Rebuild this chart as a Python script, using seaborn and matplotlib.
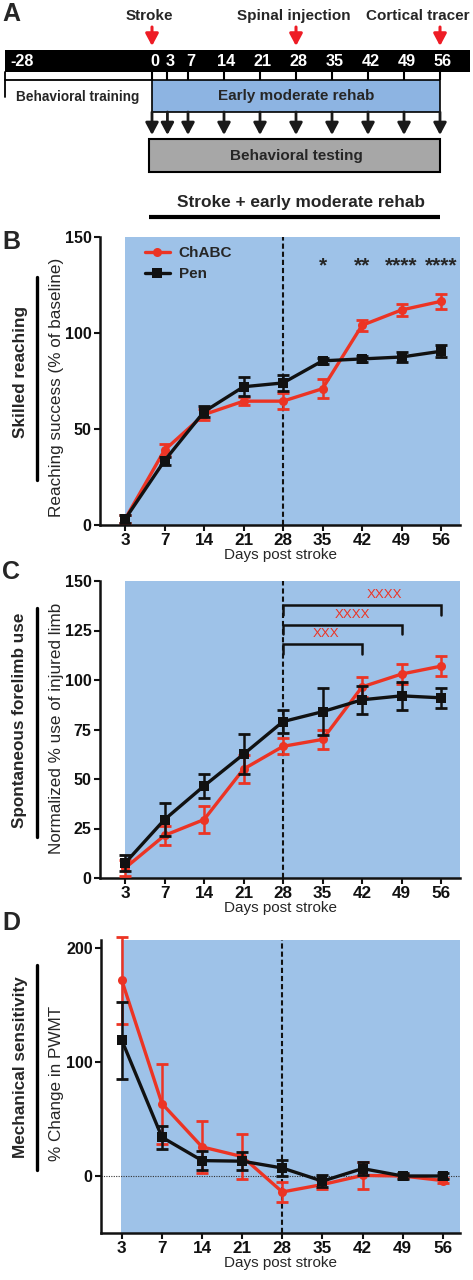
"""Timeline + three behavioural time-course panels (ChABC vs Pen)."""

import matplotlib

matplotlib.use("Agg")
import matplotlib.pyplot as plt
from matplotlib.lines import Line2D
from matplotlib.patches import Rectangle
import numpy as np
import seaborn as sns

# ---- data -------------------------------------------------------------
days = [3, 7, 14, 21, 28, 35, 42, 49, 56]

reach_chabc = [3, 39, 57.5, 64.5, 64.5, 71, 104, 112, 116.5]
reach_chabc_err = [2, 3, 3, 2, 4, 5, 3, 3, 4]
reach_pen = [3, 33.5, 59, 72, 74, 85.5, 86.5, 87.5, 90.5]
reach_pen_err = [2, 2, 3, 5, 4, 1.5, 1.5, 2.5, 3]
reach_stars = ["", "", "", "", "", "*", "**", "****", "****"]

limb_chabc = [5, 21.5, 29.5, 55, 66.5, 70, 96.5, 103, 107]
limb_chabc_err = [4, 5, 7, 7, 4, 5, 5, 5, 5]
limb_pen = [7.5, 29.5, 46.5, 62.5, 79, 84, 90, 92, 91]
limb_pen_err = [4, 8.5, 6, 10, 6, 12, 7, 7, 5]
limb_brackets = [(28, 42, "XXX"), (28, 49, "XXXX"), (28, 56, "XXXX")]
limb_bracket_levels = [118, 128, 138]

pwmt_chabc = [171.5, 63.5, 25.5, 17, -14, -7.5, 0.5, 0, -4]
pwmt_chabc_err = [38, 35, 23, 20, 9, 4, 12, 2, 2]
pwmt_pen = [119, 34, 13.5, 13, 7, -4.5, 6.5, 0, 0]
pwmt_pen_err = [34, 10, 8, 8, 7, 5, 6, 3, 3]

timeline_days = [0, 3, 7, 14, 21, 28, 35, 42, 49, 56]
training_start = -28
events = [("Stroke", 0), ("Spinal injection", 28), ("Cortical tracer", 56)]

RED = "#EC3424"
BLACK = "#111111"
BG_BLUE = "#9EC2E8"
BOX_BLUE = "#8DB4E2"
GRAY = "#A7A7A7"

sns.set_style("ticks")
plt.rcParams["font.family"] = ["Liberation Sans", "DejaVu Sans"]

W, H = 473, 1280
fig = plt.figure(figsize=(W / 100, H / 100), dpi=100)


def fx(px):
    return px / W


def fy(py):
    return 1 - py / H


# ---- panel A: timeline -------------------------------------------------
axa = fig.add_axes([0, fy(240), 1, 240 / H])
axa.set_xlim((0 - 152) / 5.143, (W - 152) / 5.143)
axa.set_ylim(240, 0)
axa.axis("off")

bar_left, bar_right = training_start - 0.6, 61.8
axa.add_patch(Rectangle((bar_left, 50), bar_right - bar_left, 22, color="black", lw=0))
axa.text(training_start + 0.4, 62, str(training_start), color="white", fontsize=11.7,
         fontweight="bold", ha="left", va="center")
for d in timeline_days:
    axa.text(d + 0.5, 62, str(d), color="white", fontsize=11.7, fontweight="bold",
             ha="center", va="center")
axa.plot([bar_left, 0], [79.5, 79.5], color="black", lw=1.3)
axa.plot([bar_left, bar_left], [72, 97], color="black", lw=1.3)
axa.vlines(timeline_days, 72, 80, color="black", lw=1.5)
axa.text((training_start + 0) / 2 - 0.5, 97, "Behavioral training", fontsize=9.8,
         fontweight="bold", ha="center", va="center")
axa.add_patch(Rectangle((0, 80), 56, 32, facecolor=BOX_BLUE, edgecolor="black", lw=1.2))
axa.text(28, 96, "Early moderate rehab", fontsize=11, fontweight="bold",
         ha="center", va="center")
for d in timeline_days:
    axa.annotate("", xy=(d, 135), xytext=(d, 112),
                 arrowprops=dict(arrowstyle="-|>,head_width=0.32,head_length=0.6",
                                 color="#1a1a1a", lw=2, mutation_scale=12,
                                 shrinkA=0, shrinkB=0))
axa.add_patch(Rectangle((-0.6, 139), 56.6, 33, facecolor=GRAY, edgecolor="black", lw=1.5))
axa.text(28, 156, "Behavioral testing", fontsize=11, fontweight="bold",
         ha="center", va="center")
axa.text(29, 202, "Stroke + early moderate rehab", fontsize=12.4, fontweight="bold",
         ha="center", va="center")
axa.plot([-0.6, 56], [217, 217], color="black", lw=3, solid_capstyle="butt")
for name, d in events:
    axa.annotate("", xy=(d, 46), xytext=(d, 27),
                 arrowprops=dict(arrowstyle="-|>,head_width=0.32,head_length=0.6",
                                 color="#EE1C25", lw=2.2, mutation_scale=12,
                                 shrinkA=0, shrinkB=0))
    if d == timeline_days[-1]:
        axa.text(bar_right, 16, name, fontsize=11, fontweight="bold", ha="right", va="center")
    else:
        axa.text(d - 0.5, 16, name, fontsize=11, fontweight="bold", ha="center", va="center")


# ---- panels B-D --------------------------------------------------------
def time_course(ax, red, red_err, black, black_err, ylim, yticks, xlim, legend=False):
    pos = np.arange(len(days))
    ax.set_xlim(*xlim)
    ax.set_ylim(*ylim)
    ax.axvspan(0 if ylim[0] == 0 else -0.03, xlim[1], color=BG_BLUE, lw=0, zorder=0)
    ax.axvline(days.index(28), color=BLACK, lw=1.5, ls=(0, (2.5, 1.4)), zorder=1)
    for name, vals, errs, col, mk, ms, z in [
        ("ChABC", red, red_err, RED, "o", 6.5, 3),
        ("Pen", black, black_err, BLACK, "s", 6.5, 4),
    ]:
        ax.errorbar(pos, vals, yerr=errs, fmt="none", ecolor=col, elinewidth=1.8,
                    capsize=4.5, capthick=2, clip_on=False, zorder=z)
        sns.lineplot(x=pos, y=vals, color=col, marker=mk, markersize=ms, lw=2.4,
                     markeredgewidth=0, label=name if legend else None, ax=ax,
                     clip_on=False, zorder=z)
    ax.set_xticks(pos)
    ax.set_xticklabels([str(d) for d in days])
    ax.set_yticks(yticks)
    ax.tick_params(axis="both", length=4, width=1.5, pad=2, colors=BLACK)
    ax.tick_params(axis="x", labelsize=12.3)
    ax.tick_params(axis="y", labelsize=11.5)
    for lbl in ax.get_xticklabels() + ax.get_yticklabels():
        lbl.set_fontweight("bold")
    ax.set_xlabel("Days post stroke", fontsize=11, labelpad=0)
    ax.set_ylabel("")
    sns.despine(ax=ax)
    for sp in ("left", "bottom"):
        ax.spines[sp].set_linewidth(1.8)
        ax.spines[sp].set_color(BLACK)
    if not legend and ax.get_legend() is not None:
        ax.get_legend().remove()


axb = fig.add_axes([fx(100), fy(525), 360 / W, 288 / H])
time_course(axb, reach_chabc, reach_chabc_err, reach_pen, reach_pen_err,
            (0, 150), [0, 50, 100, 150], (-0.633, 8.48), legend=True)
for i, s in enumerate(reach_stars):
    if s:
        axb.text(i, 135, s, ha="center", va="center", fontsize=15, fontweight="bold")
axb.legend(loc="upper left", bbox_to_anchor=(0.1, 1.0), frameon=False,
           handlelength=1.6, handletextpad=0.6, labelspacing=0.45, borderaxespad=0.2,
           prop={"weight": "bold", "size": 11})

axc = fig.add_axes([fx(100), fy(878), 360 / W, 297 / H])
time_course(axc, limb_chabc, limb_chabc_err, limb_pen, limb_pen_err,
            (0, 150), [0, 25, 50, 75, 100, 125, 150], (-0.633, 8.48))
text_shift = [0.1, 0.27, 0.56]
for (d1, d2, lab), lvl, sh in zip(limb_brackets, limb_bracket_levels, text_shift):
    p1, p2 = days.index(d1), days.index(d2)
    axc.plot([p1, p1, p2, p2], [lvl - 5, lvl, lvl, lvl - 5], color=BLACK, lw=1.8,
             solid_joinstyle="miter")
    axc.text((p1 + p2) / 2 + sh, lvl + 5, lab, color=RED, fontsize=9.5,
             ha="center", va="center")

axd = fig.add_axes([fx(101), fy(1233), 359 / W, 293 / H])
time_course(axd, pwmt_chabc, pwmt_chabc_err, pwmt_pen, pwmt_pen_err,
            (-50, 207), [0, 100, 200], (-0.52, 8.43))
axd.axhline(0, color="#333333", lw=0.8, ls=(0, (1, 1.2)), zorder=1)

# ---- outer labels -----------------------------------------------------
for letter, py in [("A", 14), ("B", 242), ("C", 572), ("D", 923)]:
    fig.text(fx(2), fy(py), letter, fontsize=18, fontweight="bold", ha="left", va="center")

side_labels = [
    ("Skilled reaching", 372, 277, 480, "Reaching success (% of baseline)", 387),
    ("Spontaneous forelimb use", 720, 608, 837, "Normalized % use of injured limb", 728),
    ("Mechanical sensitivity", 1067, 965, 1170, "% Change in PWMT", 1083),
]
for bold_txt, by, y0, y1, txt, ty in side_labels:
    fig.text(fx(20), fy(by), bold_txt, rotation=90, fontsize=12.3, fontweight="bold",
             ha="center", va="center")
    fig.add_artist(Line2D([fx(37), fx(37)], [fy(y0), fy(y1)], color="black", lw=2.4,
                          transform=fig.transFigure))
    fig.text(fx(56), fy(ty), txt, rotation=90, fontsize=12.3, ha="center", va="center")

fig.savefig("out.png", dpi=100)
